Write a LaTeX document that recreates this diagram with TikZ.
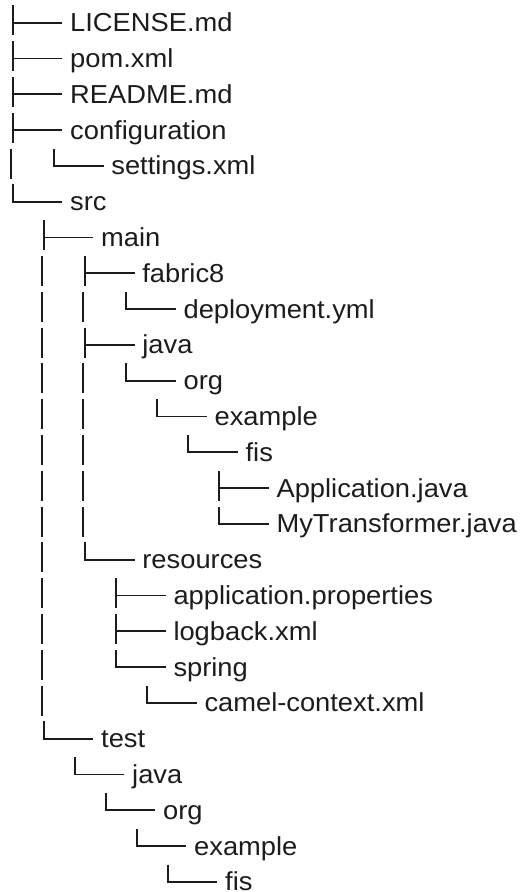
\documentclass[tikz,border=0pt]{standalone}
\usepackage{fontspec}
\setmainfont[FakeStretch=1.05]{Liberation Sans}
\definecolor{ink}{HTML}{1C1C1C}
\begin{document}
\begin{tikzpicture}[x=1pt,y=-1pt,
  tree/.style={draw=ink,line width=1.7pt},
  entry/.style={anchor=base west,inner sep=0pt,text=ink,font=\fontsize{26}{30}\selectfont}]
\useasboundingbox (0,0) rectangle (530,892);
% rows: row / glyph x / type (T = tee, L = corner) / text / name
\foreach \r/\x/\t/\s/\n in {
  0/12.7/T/LICENSE.md/license,
  1/12.7/T/pom.xml/pom,
  2/12.7/T/README.md/readme,
  3/12.7/T/configuration/configuration,
  4/53.9/L/settings.xml/settings,
  5/12.7/L/src/src,
  6/43.7/T/main/main,
  7/84.9/T/fabric8/fabric,
  8/126.1/L/deployment.yml/deployment,
  9/84.9/T/java/mjava,
  10/126.1/L/org/morg,
  11/157.1/L/example/mexample,
  12/188.1/L/fis/mfis,
  13/219.1/T/Application.java/application,
  14/219.1/L/MyTransformer.java/transformer,
  15/84.9/L/resources/resources,
  16/116/T/application.properties/properties,
  17/116/T/logback.xml/logback,
  18/116/L/spring/spring,
  19/147/L/camel-context.xml/camel,
  20/43.7/L/test/test,
  21/74.7/L/java/tjava,
  22/105.7/L/org/torg,
  23/136.7/L/example/texample,
  24/167.7/L/fis/tfis}{
  \pgfmathsetmacro\yy{22.7+35.8*\r}
  \pgfmathsetmacro\yt{\yy-17.3}
  \pgfmathsetmacro\yb{\yy+12.7}
  \coordinate (c\n) at (\x,\yy);
  \node[entry] (\n) at (\x+57.3,\yy+8.9) {\s};
  \if T\t
    \draw[tree] (\x,\yt) -- (\x,\yb);
    \draw[tree] (c\n) -- ++(49.6,0);
  \else
    \draw[tree] (\x,\yt) -- (c\n) -- ++(49.6,0);
  \fi
}
% continuation bars
\foreach \r/\x in {4/12.7,
  7/43.7, 8/43.7, 9/43.7, 10/43.7, 11/43.7, 12/43.7, 13/43.7, 14/43.7,
  15/43.7, 16/43.7, 17/43.7, 18/43.7, 19/43.7,
  8/84.9, 10/84.9, 11/84.9, 12/84.9, 13/84.9, 14/84.9}{
  \pgfmathsetmacro\yy{22.7+35.8*\r}
  \draw[tree] (\x-2,\yy-17.3) -- (\x-2,\yy+12.7);
}
\end{tikzpicture}
\end{document}
